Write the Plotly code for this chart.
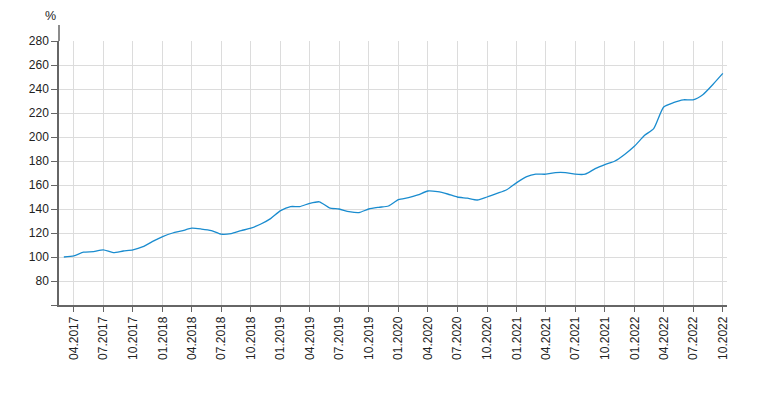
import plotly.graph_objects as go
import pandas as pd

months = pd.date_range("2017-03-01", "2022-10-01", freq="MS")
values = [
    100.0, 101.0, 104.0, 104.5, 106.0, 103.6, 105.0, 106.0, 108.6, 113.0,  # 03.2017-12.2017
    117.0, 120.0, 121.7, 124.0, 123.3, 122.0, 119.0, 119.5, 122.0, 124.0,  # 01.2018-10.2018
    127.5, 132.0, 138.6, 142.0, 142.0, 144.7, 146.0, 141.0, 140.0, 137.8,  # 11.2018-08.2019
    137.0, 140.0, 141.4, 142.5, 147.8, 149.4, 151.7, 155.0, 154.4, 152.5,  # 09.2019-06.2020
    150.0, 149.0, 147.5, 150.0, 153.0, 156.0, 162.0, 167.0, 169.0, 169.0,  # 07.2020-04.2021
    170.3, 170.3, 169.0, 169.0, 173.6, 177.0, 180.0, 185.5, 192.5, 201.4,  # 05.2021-02.2022
    207.0, 225.0, 228.6, 231.0, 231.0, 235.5, 244.0, 253.0,                # 03.2022-10.2022
]
y_ticks = [60, 80, 100, 120, 140, 160, 180, 200, 220, 240, 260, 280]
y_labels = ["" if v == 60 else str(v) for v in y_ticks]

fig = go.Figure()
fig.add_trace(go.Scatter(
    x=months, y=values, mode="lines",
    line=dict(color="#1a8ccf", width=1.3, shape="spline", smoothing=0.6),
    hoverinfo="skip", showlegend=False,
))

fig.update_layout(
    width=768, height=394,
    margin=dict(l=59, r=41, t=41, b=89),
    paper_bgcolor="white", plot_bgcolor="white",
    font=dict(family="Liberation Sans, Arial, sans-serif", size=12, color="#222"),
    xaxis=dict(
        range=["2017-02-14", "2022-10-14"],
        tick0="2017-04-01", dtick="M3", tickformat="%m.%Y",
        tickangle=-90, ticks="outside", ticklen=5, tickcolor="#666",
        showgrid=True, gridcolor="#dcdcdc", gridwidth=1,
        showline=True, linecolor="#666", linewidth=1.5,
        zeroline=False, fixedrange=True,
    ),
    yaxis=dict(
        range=[60, 280],
        tickvals=y_ticks, ticktext=y_labels,
        ticks="outside", ticklen=6, tickcolor="#666",
        showgrid=True, gridcolor="#dcdcdc", gridwidth=1,
        showline=True, linecolor="#666", linewidth=1.5,
        zeroline=False, fixedrange=True,
    ),
    shapes=[dict(
        type="line", xref="paper", yref="paper",
        x0=0, x1=0, y0=1, y1=1 + 16 / 264,
        line=dict(color="#666", width=1.5),
    )],
    annotations=[dict(
        text="%", xref="paper", yref="paper",
        x=0, y=1 + 16 / 264, xshift=-9, yshift=0,
        xanchor="center", yanchor="bottom", showarrow=False,
        font=dict(size=12.5, color="#222"),
    )],
)

fig.write_html("out.html")
